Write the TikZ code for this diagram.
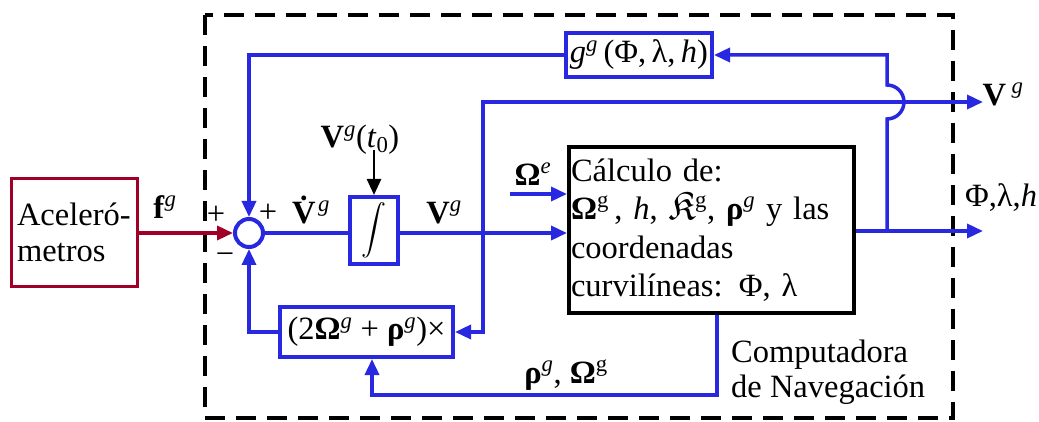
\RequirePackage{fix-cm}
\documentclass[tikz,border=0pt]{standalone}
\usepackage{amssymb}
\usepackage{fontspec}
\setmainfont{Liberation Serif}
\usetikzlibrary{arrows.meta}
\definecolor{sblue}{RGB}{40,40,225}
\definecolor{sred}{RGB}{160,0,40}
\newcommand\gsup{\textsuperscript{\itshape g}}
\newcommand\bOm{\textbf{Ω}}
\newcommand\bRh{\textbf{ρ}}
\begin{document}
\begin{tikzpicture}[x=1pt,y=-1pt,font=\fontsize{32.5}{38.5}\selectfont,
  sig/.style={draw=sblue,line width=3.5pt},
  arr/.style={-{Triangle[length=16pt,width=14pt]}},
  bbox/.style={draw=sblue,line width=4pt,inner sep=0pt,rectangle},
  lbl/.style={inner sep=0pt}]
\useasboundingbox (0,0) rectangle (1039,422);
% dashed border
\draw[line width=3.5pt,dash pattern=on 20pt off 11pt] (205,15) rectangle (953,418);
% blocks
\node[draw=sred,line width=3pt,minimum height=107pt,text width=114pt,align=left,inner xsep=6pt,
      font=\fontsize{32.5}{36}\selectfont] (acc) at (74,232.5) {Aceleró-\\metros};
\node[circle,draw=sblue,line width=4pt,minimum size=28pt,inner sep=0pt] (sum) at (249,233) {};
\node[bbox,minimum width=48pt,minimum height=67pt] (int) at (374,230.5)
  {\fontsize{25}{25}\selectfont$\displaystyle\int$};
\node[bbox,minimum width=146pt,minimum height=44pt] (g) at (639,55)
  {\textit{g}\gsup\,(Φ,\,λ,\,\textit{h})};
\node[bbox,minimum width=173pt,minimum height=50pt] (mul) at (366.5,332)
  {(2\bOm\gsup{} + \bRh\gsup)×};
\node[draw=black,line width=4pt,minimum width=285pt,minimum height=166pt,text width=281pt,
      inner xsep=2pt,align=left] (calc) at (711.5,230)
  {Cálculo de:\\
   \makebox[281pt][s]{\bOm\textsuperscript{g}\,, \textit{h}, {\fontsize{40}{40}\selectfont$\mathfrak{K}$}\textsuperscript{g}, \bRh\gsup{} y las}\\
   coordenadas\\
   curvilíneas: Φ, λ};
% coordinates
\coordinate (j) at (483,233);
\coordinate (vo) at (983,102);
\coordinate (po) at (983,231);
\coordinate (jb) at (887,231);
\coordinate (cb) at (717,395);
\coordinate (mb) at (372,0);
\coordinate (oe) at (510,194);
\coordinate (v0) at (374,150);
% connectors
\draw[sig,draw=sred,arr] (acc.east |- sum) -- (sum.west);
\draw[sig] (sum.east) -- (sum -| int.west);
\draw[sig,arr] (sum -| int.east) -- (sum -| calc.west);
\draw[sig,arr] (j) -- (j |- vo) -- (vo);
\draw[sig,arr] (j) -- (j |- mul.east) -- (mul.east);
\draw[sig,arr] (calc.east |- po) -- (po);
\draw[sig,arr] (jb) -- (887,119) arc[start angle=90,end angle=-90,radius=17] -- (887,55) -- (g.east);
\draw[sig,arr] (g.west) -| (sum.north);
\draw[sig,arr] (mul.west) -| (sum.south);
\draw[sig,arr] (calc.south -| cb) -- (cb) -| (mul.south -| mb);
\draw[sig,arr] (oe) -- (oe -| calc.west);
\draw[line width=2.5pt,arr] (v0) -- (int.north);
% labels
\node[lbl] (lf) at (165,207) {\textbf{f}\gsup};
\node[lbl] (lp1) at (216,215) {+};
\node[lbl] (lp2) at (268,213) {+};
\node[lbl] (lm) at (225,259) {−};
\node[lbl] (lvd) at (311,210) {\textbf{\.{V}}\gsup};
\node[lbl] (lv) at (444,212) {\textbf{V}\gsup};
\node[lbl] (lv0) at (360,140) {\textbf{V}\gsup(\textit{t}\textsubscript{0})};
\node[lbl] (loe) at (533,174) {\bOm\textsuperscript{\itshape e}};
\node[lbl] (lvo) at (1003,94) {\textbf{V}\,\gsup};
\node[lbl] (lpo) at (1001,198) {Φ,λ,\textit{h}};
\node[lbl] (lro) at (566,375) {\bRh\gsup, \bOm\textsuperscript{g}};
\node[lbl,align=left,anchor=west,font=\fontsize{32.5}{35}\selectfont] (lcn) at (731,372)
  {Computadora\\de Navegación};
\end{tikzpicture}
\end{document}
